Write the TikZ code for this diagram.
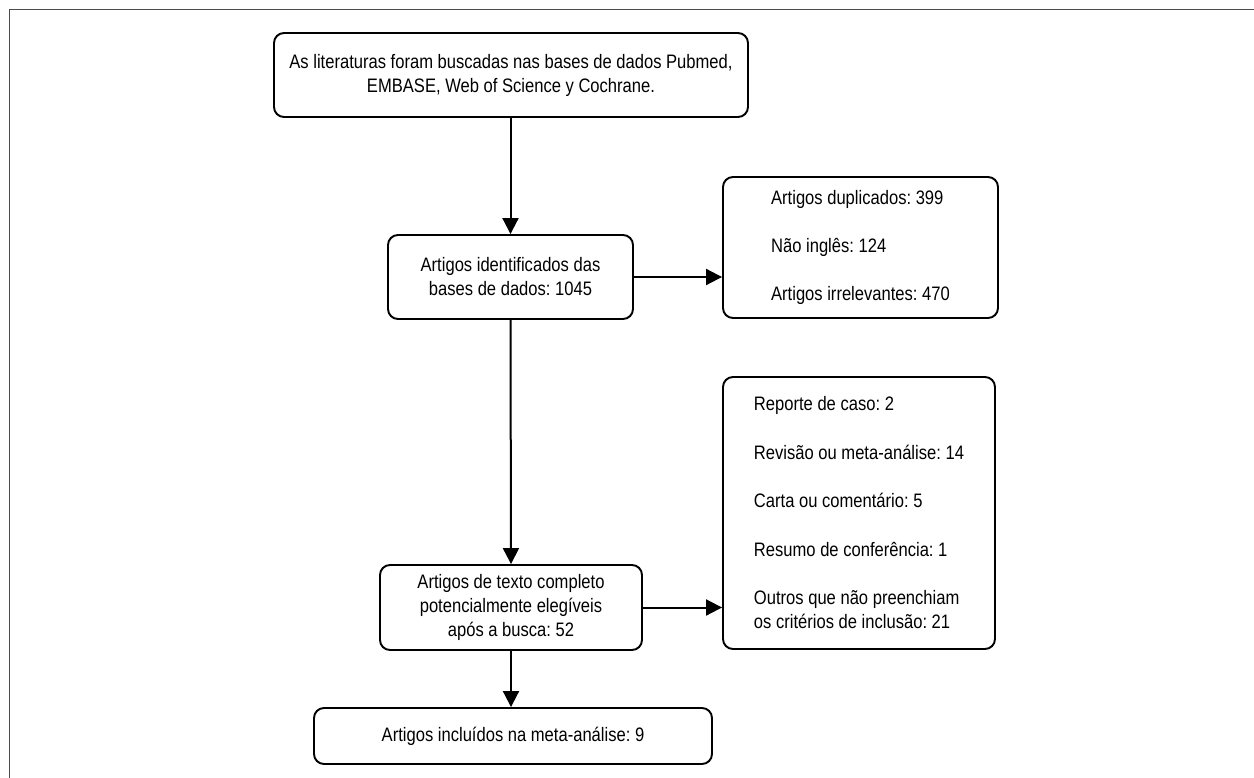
\documentclass[tikz,border=0pt]{standalone}
\usepackage{fontspec}
\setmainfont{Liberation Sans}[FakeStretch=0.85]
\usetikzlibrary{arrows.meta}
\frenchspacing
\begin{document}
\begin{tikzpicture}[x=1pt,y=-1pt,
  box/.style={draw, line width=1.9pt, rounded corners=10pt, inner sep=0pt,
    font=\fontsize{19.5}{24}\selectfont\frenchspacing, align=center},
  lbox/.style={box, align=left},
  conn/.style={line width=2pt, -{Triangle[length=16pt,width=16pt]}}]
\useasboundingbox (0,0) rectangle (1254,778);
\draw[line width=1.5pt, black!70] (9.5,778) -- (9.5,9.5) -- (1254,9.5);
\node[box, minimum width=474pt, minimum height=84pt] (b1) at (511,75)
  {As literaturas foram buscadas nas bases de dados Pubmed,\\EMBASE, Web of Science y Cochrane.};
\node[box, minimum width=245pt, minimum height=84pt] (b2) at (510.5,277)
  {Artigos identificados das\\bases de dados: 1045};
\node[lbox, minimum width=275pt, minimum height=141pt] (b3) at (860.5,247.5)
  {Artigos duplicados: 399\\[24pt]N\~ao ingl\^es: 124\\[24pt]Artigos irrelevantes: 470};
\node[lbox, minimum width=272pt, minimum height=272pt] (b4) at (859,513)
  {Reporte de caso: 2\\[24.5pt]Revis\~ao ou meta-an\'alise: 14\\[24.5pt]Carta ou coment\'ario: 5\\[24.5pt]Resumo de confer\^encia: 1\\[24.5pt]Outros que n\~ao preenchiam\\os crit\'erios de inclus\~ao: 21};
\node[box, minimum width=262pt, minimum height=85pt] (b5) at (511,607.5)
  {Artigos de texto completo\\potencialmente eleg\'iveis\\ap\'os a busca: 52};
\node[box, minimum width=398pt, minimum height=56pt] (b6) at (513,736)
  {Artigos inclu\'idos na meta-an\'alise: 9};
\draw[conn] (b1.south -| b2.north) -- (b2.north);
\draw[conn] (b2.east) -- (b2.east -| b3.west);
\draw[conn] (b2.south) -- (b5.north);
\draw[conn] (b5.east) -- (b5.east -| b4.west);
\draw[conn] (b5.south) -- (b5.south |- b6.north);
\end{tikzpicture}
\end{document}
